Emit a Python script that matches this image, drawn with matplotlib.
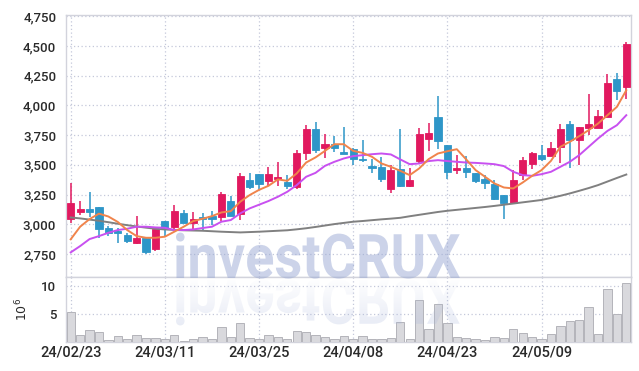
import numpy as np
import matplotlib
matplotlib.use("Agg")
import matplotlib.pyplot as plt
from matplotlib.textpath import TextPath
from matplotlib.font_manager import FontProperties
from matplotlib.patches import PathPatch
from matplotlib.transforms import Affine2D

# daily candles, 24/02/23 .. 24/05/30 (only every 10th date is labelled)
tick_idx = [0, 10, 20, 30, 40, 50]
tick_labels = ["24/02/23", "24/03/11", "24/03/25", "24/04/08", "24/04/23", "24/05/09"]

opens = [3042, 3103, 3128, 3145, 2969, 2941, 2910, 2840, 2882, 2790,
         3027, 2980, 3095, 3013, 3058, 3070, 3058, 3198, 3089, 3372,
         3422, 3366, 3380, 3358, 3316, 3596, 3800, 3638, 3680, 3607,
         3635, 3551, 3490, 3484, 3294, 3464, 3321, 3534, 3719, 3904,
         3666, 3456, 3478, 3428, 3380, 3338, 3243, 3176, 3414, 3506,
         3582, 3576, 3652, 3848, 3708, 3811, 3811, 3904, 4226, 4156]
highs = [3344, 3198, 3274, 3150, 2985, 2966, 2929, 3072, 2885, 2974,
         3030, 3165, 3120, 3100, 3092, 3109, 3271, 3237, 3433, 3428,
         3425, 3484, 3526, 3414, 3624, 3834, 3865, 3764, 3742, 3820,
         3640, 3708, 3546, 3563, 3498, 3806, 3478, 3814, 3854, 4078,
         3670, 3582, 3574, 3432, 3414, 3372, 3246, 3456, 3563, 3608,
         3666, 3694, 3840, 3870, 3820, 4100, 3960, 4268, 4277, 4534]
lows = [3008, 3075, 3064, 2882, 2904, 2840, 2845, 2835, 2750, 2773,
        2896, 2957, 3010, 2957, 2946, 2994, 3027, 3068, 3036, 3294,
        3288, 3321, 3321, 3294, 3294, 3540, 3596, 3559, 3610, 3590,
        3498, 3526, 3428, 3352, 3260, 3310, 3318, 3512, 3616, 3630,
        3378, 3422, 3394, 3344, 3294, 3205, 3044, 3172, 3372, 3464,
        3534, 3572, 3517, 3478, 3498, 3750, 3808, 3900, 4050, 4053]
closes = [3181, 3126, 3103, 2963, 2929, 2929, 2862, 2885, 2770, 2957,
          2969, 3112, 3013, 3045, 3047, 3047, 3254, 3072, 3406, 3316,
          3338, 3422, 3397, 3321, 3601, 3806, 3624, 3680, 3638, 3593,
          3546, 3540, 3475, 3380, 3456, 3321, 3372, 3764, 3770, 3702,
          3442, 3478, 3442, 3366, 3349, 3210, 3176, 3372, 3540, 3604,
          3548, 3638, 3806, 3708, 3815, 3840, 3910, 4193, 4122, 4515]
# volume in millions
volumes = [5.3, 1.3, 2.2, 1.8, 0.35, 1.07, 0.6, 1.24, 0.7, 0.7,
           0.53, 1.24, 0.18, 0.53, 0.9, 0.53, 2.66, 0.9, 3.37, 0.7,
           0.65, 1.24, 0.9, 0.53, 1.95, 1.78, 1.24, 0.9, 0.53, 1.07,
           0.53, 1.07, 0.53, 0.53, 0.7, 3.55, 0.53, 7.46, 2.3, 6.75,
           3.37, 0.9, 0.7, 0.53, 0.47, 0.9, 0.7, 2.3, 1.6, 0.9,
           0.65, 1.42, 2.84, 3.73, 3.96, 6.2, 1.42, 9.4, 5.03, 10.47]
# moving averages as drawn
ma5 = [2874, 2980, 3044, 3090, 3066, 3020, 2952, 2901, 2887, 2887,
       2896, 2938, 2980, 3027, 3047, 3069, 3100, 3111, 3190, 3246,
       3290, 3324, 3378, 3366, 3428, 3520, 3563, 3618, 3674, 3674,
       3618, 3601, 3568, 3512, 3484, 3450, 3414, 3470, 3548, 3596,
       3615, 3632, 3546, 3456, 3400, 3344, 3310, 3302, 3352, 3408,
       3456, 3534, 3652, 3694, 3742, 3792, 3848, 3918, 3988, 4128]
ma20 = [2764, 2817, 2876, 2901, 2929, 2952, 2963, 2980, 2980, 2974,
        2971, 2952, 2952, 2957, 2969, 2980, 3022, 3036, 3092, 3134,
        3165, 3196, 3232, 3274, 3330, 3400, 3433, 3492, 3526, 3554,
        3574, 3582, 3590, 3596, 3588, 3546, 3506, 3512, 3532, 3540,
        3532, 3526, 3520, 3517, 3512, 3506, 3490, 3442, 3414, 3408,
        3422, 3442, 3484, 3526, 3582, 3652, 3722, 3786, 3834, 3918]
ma60 = [3058, 3050, 3040, 3030, 3018, 3005, 2993, 2982, 2972, 2963,
        2957, 2953, 2950, 2948, 2946, 2942, 2938, 2935, 2932, 2935,
        2938, 2942, 2946, 2950, 2958, 2967, 2978, 2990, 3002, 3012,
        3022, 3028, 3035, 3042, 3048, 3055, 3068, 3080, 3092, 3104,
        3114, 3122, 3130, 3138, 3146, 3155, 3165, 3175, 3185, 3195,
        3205, 3222, 3240, 3260, 3282, 3305, 3330, 3360, 3390, 3419]

UP = "#e1195f"
DOWN = "#2e96c8"
GRID = "#c4c8da"
SPINE = "#d2d3dc"
FONT = ["Roboto", "DejaVu Sans"]

o = np.array(opens, float)
c = np.array(closes, float)
x = np.arange(len(o))
col = [UP if cc >= oo else DOWN for oo, cc in zip(o, c)]

W, H = 639, 371
fig = plt.figure(figsize=(W / 100, H / 100), dpi=100)
L, R = 66 / W, 631 / W
ax = fig.add_axes([L, 1 - 277 / H, R - L, 262 / H])
axv = fig.add_axes([L, 1 - 342.3 / H, R - L, 65 / H])

# candles
ax.vlines(x, lows, highs, colors=col, lw=1.1, zorder=3)
body = np.maximum(np.abs(c - o), 6)
ax.bar(x, body, bottom=np.minimum(o, c), width=0.76, color=col,
       edgecolor=col, lw=0.6, zorder=4)
ax.plot(x, ma60, color="#808080", lw=1.4, zorder=5)
ax.plot(x, ma20, color="#c850f0", lw=1.4, zorder=5)
ax.plot(x, ma5, color="#f0844c", lw=1.4, zorder=5)

ax.set_xlim(-0.5, len(x) - 0.5)
ax.set_ylim(2557, 4761)
ax.set_yticks(range(2750, 4751, 250))
ax.set_yticklabels([f"{v:,}" for v in range(2750, 4751, 250)])
ax.set_xticks(tick_idx)
ax.tick_params(axis="x", labelbottom=False, length=0)
ax.tick_params(axis="y", length=0, pad=7, labelsize=9.5, labelcolor="#2a2a2a")

# volume
axv.bar(x, volumes, width=0.88, color="#d9d9dd", edgecolor="#b4b4ba", lw=0.7, zorder=3)
axv.set_xlim(-0.5, len(x) - 0.5)
axv.set_ylim(0, 11.55)
axv.set_yticks([5, 10])
axv.set_yticklabels(["5", "10"])
axv.set_xticks(tick_idx)
axv.set_xticklabels(tick_labels)
axv.tick_params(axis="both", length=0, labelcolor="#2a2a2a")
axv.tick_params(axis="y", pad=7, labelsize=9.5)
axv.tick_params(axis="x", pad=2, labelsize=10.5)
axv.set_ylabel(r"$10^{6}$", fontsize=9, color="#2a2a2a", labelpad=8)

for a in (ax, axv):
    a.grid(True, ls=(0, (1, 2)), color=GRID, lw=0.9)
    a.set_axisbelow(True)
    for s in a.spines.values():
        s.set_color(SPINE)
        s.set_linewidth(1.0)
    for lab in a.get_xticklabels() + a.get_yticklabels():
        lab.set_family(FONT)
        lab.set_fontweight("medium")

# watermark with reflection
ov = fig.add_axes([0, 0, 1, 1], zorder=10)
ov.set_xlim(0, W)
ov.set_ylim(H, 0)
ov.axis("off")
ov.patch.set_alpha(0)

wm_font = FontProperties(family=["Roboto", "DejaVu Sans"], weight="bold")
tp = TextPath((0, 0), "investCRUX", size=100, prop=wm_font)
ext = tp.get_extents()
cap = TextPath((0, 0), "C", size=100, prop=wm_font).get_extents()
x0, x1, base = 176, 460, 278
sx = (x1 - x0) / ext.width
sy = 45 / cap.height
tr = Affine2D().translate(-ext.x0, 0).scale(sx, -sy).translate(x0, base)
ov.add_patch(PathPatch(tr.transform_path(tp), fc="#9aa9d4", ec="none", alpha=0.5))

trr = Affine2D().translate(-ext.x0, 0).scale(sx, sy).translate(x0, base + 2)
refl = PathPatch(trr.transform_path(tp), fc="none", ec="none", transform=ov.transData)
ov.add_patch(refl)
grad = np.zeros((60, 2, 4))
grad[..., 0], grad[..., 1], grad[..., 2] = 0.66, 0.71, 0.86
grad[..., 3] = np.linspace(0.28, 0.02, 60)[:, None]
img = ov.imshow(grad, extent=(x0, x1, base + 2, base + 2 + 48 * 1.02), aspect="auto",
                interpolation="bilinear", origin="upper")
img.set_clip_path(refl)
ov.set_xlim(0, W)
ov.set_ylim(H, 0)

fig.savefig("out.png", dpi=100)
